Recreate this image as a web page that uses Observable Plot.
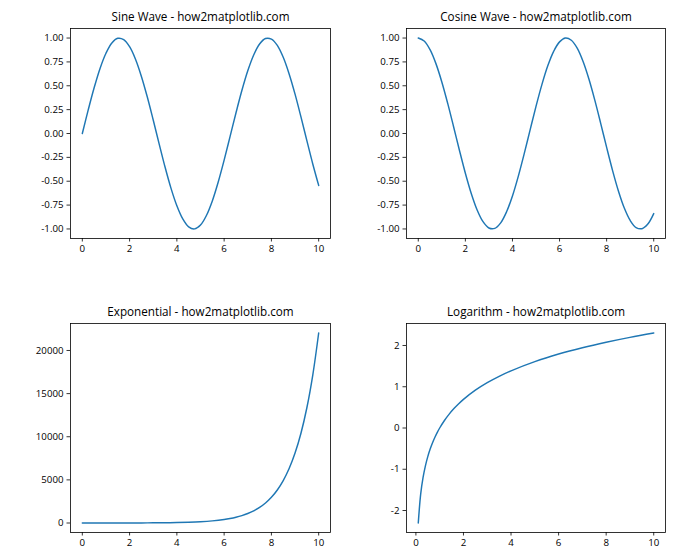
<!DOCTYPE html>
<html>
<head>
<meta charset="utf-8">
<script src="https://cdn.jsdelivr.net/npm/d3@7"></script>
<script src="https://cdn.jsdelivr.net/npm/@observablehq/plot@0.6"></script>
<style>
  html, body { margin: 0; padding: 0; background: white; }
  #fig { position: relative; width: 700px; height: 560px; background: white; overflow: hidden; }
  #fig > * { position: absolute; }
</style>
</head>
<body>
<div id="fig"></div>
<script>
// ---- data ----
const waveX = [0,0.25,0.5,0.75,1,1.25,1.5,1.75,2,2.25,2.5,2.75,3,3.25,3.5,3.75,4,4.25,4.5,4.75,5,5.25,5.5,5.75,6,6.25,6.5,6.75,7,7.25,7.5,7.75,8,8.25,8.5,8.75,9,9.25,9.5,9.75,10];
const sineY = [0,0.247,0.479,0.682,0.841,0.949,0.997,0.984,0.909,0.778,0.598,0.382,0.141,-0.108,-0.351,-0.572,-0.757,-0.895,-0.978,-0.999,-0.959,-0.859,-0.706,-0.508,-0.279,-0.033,0.215,0.450,0.657,0.823,0.938,0.995,0.989,0.923,0.798,0.624,0.412,0.174,-0.075,-0.319,-0.544];
const cosineY = [1,0.969,0.878,0.732,0.540,0.315,0.071,-0.178,-0.416,-0.628,-0.801,-0.924,-0.990,-0.994,-0.936,-0.820,-0.654,-0.446,-0.211,0.038,0.284,0.512,0.709,0.861,0.960,1.000,0.977,0.894,0.754,0.568,0.347,0.104,-0.146,-0.386,-0.602,-0.781,-0.911,-0.985,-0.997,-0.948,-0.839];
const expX = [0,0.5,1,1.5,2,2.5,3,3.5,4,4.5,5,5.5,6,6.25,6.5,6.75,7,7.25,7.5,7.75,8,8.25,8.5,8.75,9,9.25,9.5,9.75,10];
const expY = [1,1.65,2.72,4.48,7.39,12.2,20.1,33.1,54.6,90,148,245,403,518,665,854,1097,1408,1808,2322,2981,3827,4915,6311,8103,10405,13360,17154,22026];
const logX = [0.1,0.2,0.3,0.4,0.5,0.6,0.7,0.8,0.9,1.0,1.2,1.4,1.6,1.8,2.0,2.5,3,3.5,4,5,6,7,8,9,10];
const logY = [-2.303,-1.609,-1.204,-0.916,-0.693,-0.511,-0.357,-0.223,-0.105,0,0.182,0.336,0.470,0.588,0.693,0.916,1.099,1.253,1.386,1.609,1.792,1.946,2.079,2.197,2.303];

const xTicks = [0,2,4,6,8,10];
const waveTicks = [-1,-0.75,-0.5,-0.25,0,0.25,0.5,0.75,1];
const expTicks = [0,5000,10000,15000,20000];
const logTicks = [-2,-1,0,1,2];

const titles = ["Sine Wave - how2matplotlib.com","Cosine Wave - how2matplotlib.com","Exponential - how2matplotlib.com","Logarithm - how2matplotlib.com"];

const FONT = "'Open Sans', 'Noto Sans', sans-serif";
const fig = document.getElementById("fig");

function panel(o) {
  const data = o.xs.map((x, i) => ({x, y: o.ys[i]}));
  const p = Plot.plot({
    width: 350, height: 280,
    marginLeft: o.mL, marginRight: o.mR, marginTop: o.mT, marginBottom: o.mB,
    style: {fontFamily: FONT, fontSize: "9.7px", color: "black", background: "white", overflow: "visible"},
    x: {domain: o.xDomain},
    y: {domain: o.yDomain},
    marks: [
      Plot.lineY(data, {x: "x", y: "y", stroke: "#1f77b4", strokeWidth: 1.46, curve: "catmull-rom"}),
      Plot.frame({stroke: "black", strokeWidth: 0.8}),
      Plot.axisX({ticks: xTicks, tickSize: 3.5, tickPadding: 3.5, tickFormat: d => String(d), label: null, strokeWidth: 0.8}),
      Plot.axisY({ticks: o.yTicks, tickSize: 3.5, tickPadding: 3.5, tickFormat: o.yFormat, label: null, strokeWidth: 0.8}),
      Plot.text([o.title], {text: d => d, frameAnchor: "top", dy: -11, fontSize: 11.7, lineAnchor: "middle", fill: "black"})
    ]
  });
  p.style.left = o.left + "px";
  p.style.top = o.top + "px";
  fig.appendChild(p);
}

const f2 = d => d.toFixed(2);
const fi = d => String(d);

panel({title: titles[0], xs: waveX, ys: sineY, xDomain: [-0.5, 10.5], yDomain: [-1.1, 1.1], yTicks: waveTicks, yFormat: f2,
  left: 0, top: 0, mL: 70, mR: 20, mT: 28, mB: 42});
panel({title: titles[1], xs: waveX, ys: cosineY, xDomain: [-0.5, 10.5], yDomain: [-1.1, 1.1], yTicks: waveTicks, yFormat: f2,
  left: 350, top: 0, mL: 56, mR: 35, mT: 28, mB: 42});
panel({title: titles[2], xs: expX, ys: expY, xDomain: [-0.5, 10.5], yDomain: [-1100.3, 23127.7], yTicks: expTicks, yFormat: fi,
  left: 0, top: 280, mL: 70, mR: 20, mT: 43, mB: 28});
panel({title: titles[3], xs: logX, ys: logY, xDomain: [-0.395, 10.495], yDomain: [-2.533, 2.533], yTicks: logTicks, yFormat: fi,
  left: 350, top: 280, mL: 56, mR: 35, mT: 43, mB: 28});
</script>
</body>
</html>
